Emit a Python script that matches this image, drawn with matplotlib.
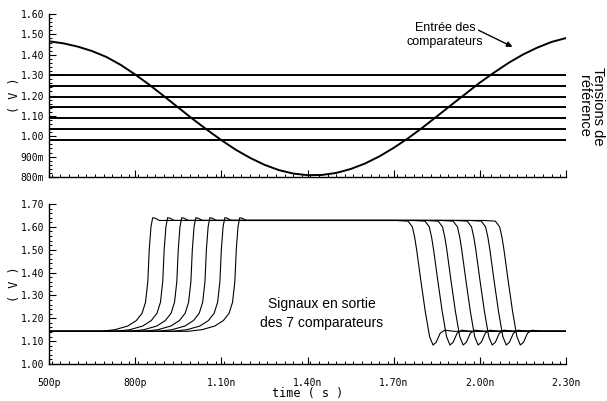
import numpy as np
import matplotlib
matplotlib.use("Agg")
import matplotlib.pyplot as plt
from matplotlib.ticker import MultipleLocator, FixedLocator

# ---------------- data ----------------
# top panel: comparator input (V) sampled every 50 ps
sine_t = [0.50, 0.55, 0.60, 0.65, 0.70, 0.75, 0.80, 0.85, 0.90, 0.95,
          1.00, 1.05, 1.10, 1.15, 1.20, 1.25, 1.30, 1.35, 1.40, 1.45,
          1.50, 1.55, 1.60, 1.65, 1.70, 1.75, 1.80, 1.85, 1.90, 1.95,
          2.00, 2.05, 2.10, 2.15, 2.20, 2.25, 2.30]
sine_v = [1.466, 1.456, 1.440, 1.418, 1.389, 1.350, 1.303, 1.252, 1.197, 1.141,
          1.085, 1.032, 0.981, 0.934, 0.894, 0.860, 0.834, 0.817, 0.809, 0.810,
          0.820, 0.839, 0.866, 0.901, 0.943, 0.990, 1.042, 1.097, 1.153, 1.208,
          1.263, 1.313, 1.360, 1.401, 1.435, 1.463, 1.482]

# reference voltages (V)
ref_levels = [1.300, 1.247, 1.195, 1.143, 1.089, 1.035, 0.982]

# bottom panel: comparator outputs
rise_times = [0.849, 0.901, 0.950, 0.999, 1.048, 1.100, 1.152]   # ns
fall_times = [2.084, 2.035, 1.986, 1.937, 1.885, 1.839, 1.780]   # ns
v_low = 1.143

# shape of one rising edge (offset ns, V)
rise_dt = [-0.17, -0.12, -0.075, -0.045, -0.025, -0.013, -0.005, 0.0, 0.006, 0.012, 0.02, 0.035, 0.06]
rise_v = [1.143, 1.150, 1.166, 1.190, 1.222, 1.27, 1.36, 1.50, 1.60, 1.640, 1.638, 1.628, 1.628]
# shape of one falling edge (offset ns, V)
fall_dt = [-0.07, -0.03, -0.015, -0.007, 0.0, 0.014, 0.03, 0.045, 0.057, 0.068, 0.082, 0.098, 0.13]
fall_v = [1.628, 1.625, 1.60, 1.555, 1.50, 1.37, 1.23, 1.12, 1.083, 1.095, 1.135, 1.148, 1.143]

t_start, t_end = 0.5, 2.3
x_ticks = [0.5, 0.8, 1.1, 1.4, 1.7, 2.0, 2.3]
x_ticklabels = ["500p", "800p", "1.10n", "1.40n", "1.70n", "2.00n", "2.30n"]
top_yticks = [0.8, 0.9, 1.0, 1.1, 1.2, 1.3, 1.4, 1.5, 1.6]
top_yticklabels = ["800m", "900m", "1.00", "1.10", "1.20", "1.30", "1.40", "1.50", "1.60"]
bot_yticks = [1.0, 1.1, 1.2, 1.3, 1.4, 1.5, 1.6, 1.7]
bot_yticklabels = ["1.00", "1.10", "1.20", "1.30", "1.40", "1.50", "1.60", "1.70"]

# ---------------- figure ----------------
W, H = 607, 401
fig = plt.figure(figsize=(W / 100, H / 100), dpi=100)

def px_axes(x0, y0, x1, y1):
    return fig.add_axes([x0 / W, 1 - y1 / H, (x1 - x0) / W, (y1 - y0) / H])

ax1 = px_axes(49, 14, 566, 177)
ax2 = px_axes(49, 204, 566, 364)

mono = "DejaVu Sans Mono"
sans = "Liberation Sans"

for ax in (ax1, ax2):
    ax.set_xlim(t_start, t_end)
    ax.spines["top"].set_visible(False)
    ax.spines["right"].set_visible(False)
    ax.spines["left"].set_linewidth(1.0)
    ax.spines["bottom"].set_linewidth(1.0)
    ax.xaxis.set_major_locator(FixedLocator(x_ticks))
    ax.xaxis.set_minor_locator(MultipleLocator(0.03))
    ax.yaxis.set_minor_locator(MultipleLocator(0.02))
    ax.tick_params(which="major", direction="in", length=5, width=0.8, labelsize=7)
    ax.tick_params(which="minor", direction="in", length=2.5, width=0.7)
    ax.tick_params(axis="x", which="major", pad=10)

# top panel
ax1.set_ylim(0.8, 1.6)
ax1.set_yticks(top_yticks)
ax1.set_yticklabels(top_yticklabels, fontfamily=mono, fontsize=7)
ax1.set_xticks(x_ticks)
ax1.set_xticklabels([])
for lv in ref_levels:
    ax1.plot([t_start, t_end], [lv, lv], color="black", lw=1.4, solid_capstyle="butt")
ax1.plot(sine_t, sine_v, color="black", lw=1.4)
ax1.set_ylabel("( V )", fontfamily=mono, fontsize=8.5, labelpad=0)

# bottom panel
ax2.set_ylim(1.0, 1.7)
ax2.set_yticks(bot_yticks)
ax2.set_yticklabels(bot_yticklabels, fontfamily=mono, fontsize=7)
ax2.set_xticks(x_ticks)
ax2.set_xticklabels(x_ticklabels, fontfamily=mono, fontsize=7)
rdt = np.array(rise_dt)
fdt = np.array(fall_dt)
for tr, tf in zip(rise_times, fall_times):
    tt = np.concatenate([[t_start], tr + rdt, tf + fdt, [t_end]])
    vv = np.concatenate([[v_low], rise_v, fall_v, [v_low]])
    ax2.plot(tt, vv, color="black", lw=0.8)
ax2.set_ylabel("( V )", fontfamily=mono, fontsize=8.5, labelpad=0)
ax2.set_xlabel("time ( s )", fontfamily=mono, fontsize=8.5, labelpad=-1)

# annotations
fig.text(445 / W, 1 - 35 / H, "Entrée des\ncomparateurs", ha="center", va="center",
         fontfamily=sans, fontsize=9, linespacing=1.25)
fig.add_artist(matplotlib.patches.FancyArrowPatch(
    (476 / W, 1 - 29 / H), (515 / W, 1 - 48 / H), transform=fig.transFigure,
    arrowstyle="-|>", mutation_scale=8, color="black", lw=1.0))
fig.text(591 / W, 1 - 106 / H, "Tensions de\nréférence", ha="center", va="center",
         rotation=-90, fontfamily=sans, fontsize=10.5, linespacing=1.05)
fig.text(322 / W, 1 - 313.5 / H, "Signaux en sortie\ndes 7 comparateurs", ha="center", va="center",
         fontfamily=sans, fontsize=10, linespacing=1.45)

fig.savefig("out.png", dpi=100)
